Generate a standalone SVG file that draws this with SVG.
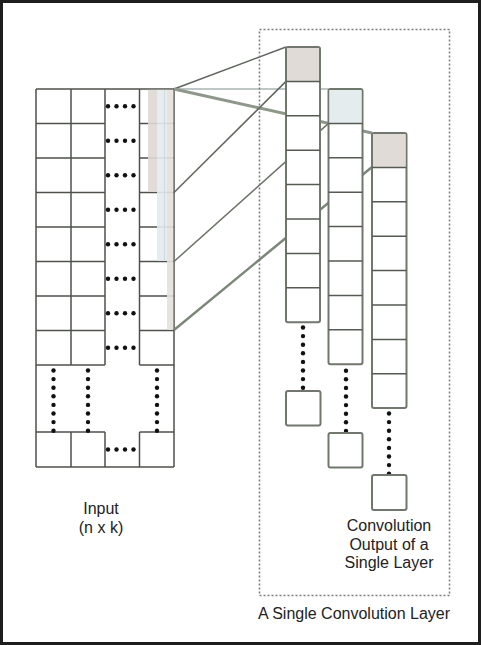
<svg xmlns="http://www.w3.org/2000/svg" width="481" height="645" viewBox="0 0 481 645">
<style>
.g{stroke:#4d524b;stroke-width:1.5;fill:none}
.col{stroke:#70786d;stroke-width:2;fill:#fff}
.div{stroke:#555b53;stroke-width:1.5}
.dot{fill:#111}
.t{font-family:"Liberation Sans",Arial,sans-serif;font-size:16px;fill:#222;text-anchor:middle}
</style>
<defs>
<g id="hd"><circle cx="108" cy="0" r="2.2"/><circle cx="116.5" cy="0" r="2.2"/><circle cx="125" cy="0" r="2.2"/><circle cx="133.5" cy="0" r="2.2"/></g>
<g id="vd"><circle cx="0" cy="0" r="2.2"/><circle cx="0" cy="8.6" r="2.2"/><circle cx="0" cy="17.2" r="2.2"/><circle cx="0" cy="25.8" r="2.2"/><circle cx="0" cy="34.4" r="2.2"/><circle cx="0" cy="43" r="2.2"/><circle cx="0" cy="51.6" r="2.2"/><circle cx="0" cy="60.2" r="2.2"/></g>
</defs>
<rect x="1.5" y="1.5" width="478" height="642" fill="#fff" stroke="#1e1e1e" stroke-width="3"/>
<g id="input">
<path class="g" d="M36 89H174M36 467H174M36 89V467M174 89V467M71 89V365M71 432V467M105 89V365M105 432V467M139.5 89V365M139.5 432V467M36 123.5H105M139.5 123.5H174M36 158H105M139.5 158H174M36 192.5H105M139.5 192.5H174M36 227H105M139.5 227H174M36 261.5H105M139.5 261.5H174M36 296H105M139.5 296H174M36 330.5H105M139.5 330.5H174M36 365H105M139.5 365H174M36 432H105M139.5 432H174"/>
<rect x="148" y="89.8" width="9" height="102" fill="#ded8d2" opacity="0.9"/>
<rect x="157" y="89.8" width="10" height="171" fill="#e3ebee" opacity="0.9"/>
<rect x="167" y="89.8" width="6.3" height="240" fill="#e4e1dc" opacity="0.9"/>
<line x1="164.5" y1="90" x2="164.5" y2="260" stroke="#cfd9dc" stroke-width="1"/>
<g class="dot">
<use href="#hd" y="106.25"/><use href="#hd" y="140.75"/><use href="#hd" y="175.25"/><use href="#hd" y="209.75"/><use href="#hd" y="244.25"/><use href="#hd" y="278.75"/><use href="#hd" y="313.25"/><use href="#hd" y="347.75"/><use href="#hd" y="449.5"/>
<use href="#vd" x="53.5" y="370.5"/><use href="#vd" x="88" y="370.5"/><use href="#vd" x="157" y="370.5"/>
</g>
</g>
<g id="connectors" fill="none">
<line x1="174" y1="89" x2="328.5" y2="89" stroke="#a9b3b3" stroke-width="1.5"/>
<line x1="174" y1="89" x2="286" y2="47" stroke="#5f655d" stroke-width="1.5"/>
<line x1="174" y1="89" x2="372" y2="133" stroke="#8d978a" stroke-width="3"/>
<line x1="174" y1="192.5" x2="286" y2="81.4" stroke="#5f655d" stroke-width="1.5"/>
<line x1="174" y1="261.5" x2="328.5" y2="123.4" stroke="#6b7268" stroke-width="1.5"/>
<line x1="174" y1="330" x2="372" y2="167" stroke="#7c8679" stroke-width="2.5"/>
</g>
<g id="outA">
<rect class="col" x="286" y="47" width="34" height="275.2" rx="2"/>
<rect x="287" y="48" width="32" height="33" fill="#e0dbd6"/>
<path class="div" d="M286 81.4H320M286 115.8H320M286 150.2H320M286 184.6H320M286 219H320M286 253.4H320M286 287.8H320"/>
<use class="dot" href="#vd" x="303" y="327.5"/>
<rect class="col" x="286" y="391" width="34.5" height="34.5" rx="2"/>
</g>
<g id="outB">
<rect class="col" x="328.5" y="89" width="34" height="275.2" rx="2"/>
<rect x="329.5" y="90" width="32" height="33" fill="#e5ecee"/>
<path class="div" d="M328.5 123.4H362.5M328.5 157.8H362.5M328.5 192.2H362.5M328.5 226.6H362.5M328.5 261H362.5M328.5 295.4H362.5M328.5 329.8H362.5"/>
<use class="dot" href="#vd" x="346" y="370.7"/>
<rect class="col" x="328.5" y="433" width="34" height="34.5" rx="2"/>
</g>
<g id="outC">
<rect class="col" x="372" y="133" width="34.5" height="275" rx="2"/>
<rect x="373" y="134" width="32.5" height="33" fill="#e0dbd6"/>
<path class="div" d="M372 167.4H406.5M372 201.8H406.5M372 236.2H406.5M372 270.6H406.5M372 305H406.5M372 339.4H406.5M372 373.8H406.5"/>
<use class="dot" href="#vd" x="389" y="413.5"/>
<rect class="col" x="372" y="475" width="34.5" height="35" rx="2"/>
</g>
<g id="layer">
<rect x="259.5" y="29.5" width="190" height="566" fill="none" stroke="#7a7a7a" stroke-width="1.5" stroke-dasharray="2 2"/>
</g>
<g id="labels">
<text class="t" x="101" y="514">Input</text>
<text class="t" x="101" y="533">(n x k)</text>
<text class="t" x="389" y="531">Convolution</text>
<text class="t" x="389" y="549.5">Output of a</text>
<text class="t" x="389" y="568">Single Layer</text>
<text class="t" x="354" y="619">A Single Convolution Layer</text>
</g>
</svg>
